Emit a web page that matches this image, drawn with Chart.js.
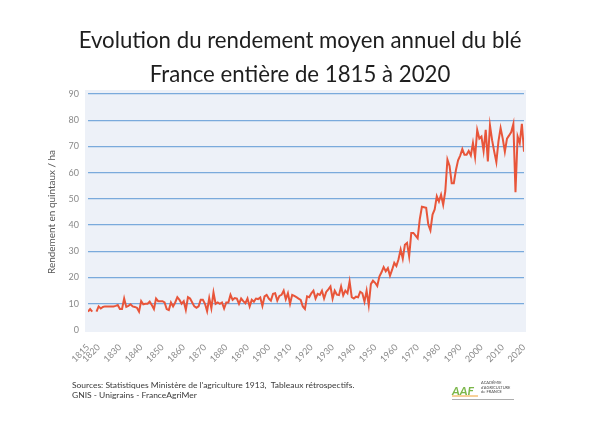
<!DOCTYPE html>
<html>
<head>
<meta charset="utf-8">
<script src="https://cdn.jsdelivr.net/npm/chart.js@4/dist/chart.umd.min.js"></script>
<style>
  html, body { margin: 0; padding: 0; background: #fff; }
  #wrap { width: 600px; height: 424px; }
</style>
</head>
<body>
<div id="wrap"><canvas id="yieldChart" width="600" height="424"></canvas></div>
<script>
// data, quintaux / ha, one value per year from 1815
const startYear = 1815;
const yields = [
  7.0, 8.0, 7.0, null, 7.0, 9.0, 8.2, 8.8, 9.0, 9.0,
  9.0, 9.0, 9.0, 9.2, 9.5, 8.0, 8.0, 12.0, 8.8, 9.2,
  9.8, 9.0, 8.8, 8.5, 7.0, 11.0, 9.8, 10.0, 10.0, 10.8,
  9.5, 8.0, 12.0, 11.0, 11.0, 11.0, 10.5, 8.0, 7.6, 10.5,
  9.0, 10.5, 12.5, 11.5, 10.0, 11.0, 7.7, 12.5, 12.0, 10.5,
  9.0, 8.5, 9.0, 11.5, 11.5, 10.0, 7.2, 12.2, 8.3, 14.3,
  10.0, 10.5, 10.0, 10.5, 8.2, 10.5, 10.5, 13.4, 11.5, 12.2,
  12.0, 10.0, 12.0, 11.0, 10.2, 12.0, 9.0, 11.5, 10.8, 12.0,
  11.8, 12.4, 9.2, 12.8, 13.4, 12.0, 11.2, 13.8, 14.0, 11.2,
  13.0, 13.4, 15.0, 11.7, 14.0, 10.0, 13.4, 13.0, 12.5, 12.0,
  11.5, 9.0, 8.0, 12.8, 12.5, 14.0, 15.0, 12.0, 13.8, 13.4,
  15.0, 12.0, 14.5, 15.5, 16.6, 12.0, 15.0, 13.5, 13.3, 16.6,
  13.2, 15.0, 14.0, 18.5, 12.5, 12.0, 12.7, 12.5, 14.6, 14.0,
  10.8, 15.0, 9.5, 17.5, 18.8, 18.0, 16.8, 20.4, 22.0, 24.0,
  22.4, 23.6, 20.7, 23.0, 25.6, 24.4, 27.0, 30.7, 27.2, 32.5,
  33.2, 28.1, 37.0, 37.0, 36.0, 35.0, 42.3, 47.0, 46.8, 46.6,
  40.2, 38.0, 44.0, 46.0, 51.0, 49.0, 51.6, 47.8, 53.0, 65.0,
  62.6, 56.0, 56.0, 61.0, 64.7, 66.5, 69.0, 66.8, 66.8, 68.3,
  66.6, 71.3, 66.0, 76.3, 73.0, 73.8, 68.3, 76.3, 64.3, 78.0,
  72.4, 68.0, 64.0, 72.0, 77.0, 73.0, 68.0, 73.0, 74.2, 75.5,
  78.6, 52.5, 73.8, 71.3, 78.6, 68.0
];
const xTickYears = [1815, 1820, 1830, 1840, 1850, 1860, 1870, 1880, 1890, 1900,
  1910, 1920, 1930, 1940, 1950, 1960, 1970, 1980, 1990, 2000, 2010, 2020];
const yMin = 0, yMax = 90, yStep = 10;

const titleLines = ["Evolution du rendement moyen annuel du blé", "France entière de 1815 à 2020"];
const yAxisTitle = "Rendement en quintaux / ha";
const sourceLines = [
  "Sources: Statistiques Ministère de l'agriculture 1913,  Tableaux rétrospectifs.",
  "GNIS - Unigrains - FranceAgriMer"
];
const logoLines = ["ACADÉMIE", "d'AGRICULTURE", "de FRANCE"];

// size a font so a string spans a given width
function fitSize(text, family, width) {
  const c = document.createElement("canvas").getContext("2d");
  c.font = "100px " + family;
  return 100 * width / c.measureText(text).width;
}
const titleSize = fitSize(titleLines[0], "Lato", 443);
const axisTitleSize = fitSize(yAxisTitle, "Lato", 124);
const sourceSize = fitSize(sourceLines[0], "Lato", 283);

const points = yields.map((v, i) => ({ x: startYear + i, y: v }));

const plotBg = {
  id: "plotBg",
  beforeDraw(chart) {
    const { ctx, chartArea: a } = chart;
    ctx.save();
    ctx.fillStyle = "#edf1f8";
    ctx.fillRect(a.left - 3, a.top - 4, a.right - a.left + 5, a.bottom - a.top + 6);
    ctx.restore();
  }
};

const footer = {
  id: "footer",
  afterDraw(chart) {
    const ctx = chart.ctx;
    ctx.save();
    ctx.fillStyle = "#3a3a3a";
    ctx.textBaseline = "middle";
    ctx.font = sourceSize + "px Lato";
    ctx.fillText(sourceLines[0], 72, 385);
    ctx.fillText(sourceLines[1], 72, 395.5);
    // small academy logo
    ctx.font = "italic bold 12px Lato";
    ctx.fillStyle = "#7ab648";
    ctx.fillText("AAF", 452, 391);
    ctx.strokeStyle = "#f0a030";
    ctx.lineWidth = 1;
    ctx.beginPath();
    ctx.moveTo(452, 396); ctx.lineTo(478, 396);
    ctx.stroke();
    ctx.fillStyle = "#4a4a4a";
    ctx.font = "4px Lato";
    logoLines.forEach((t, i) => ctx.fillText(t, 481, 383 + i * 4.5));
    ctx.fillStyle = "#999";
    ctx.fillRect(452, 399, 62, 0.8);
    ctx.restore();
  }
};

new Chart(document.getElementById("yieldChart").getContext("2d"), {
  type: "line",
  data: {
    datasets: [{
      label: "Rendement",
      data: points,
      borderColor: "#e8553a",
      borderWidth: 2,
      pointRadius: 0,
      tension: 0,
      spanGaps: false
    }]
  },
  options: {
    responsive: false,
    animation: false,
    layout: { padding: { top: 0, left: 0, right: 0, bottom: 44 } },
    scales: {
      x: {
        type: "linear",
        min: startYear,
        max: startYear + yields.length - 1,
        afterBuildTicks: s => { s.ticks = xTickYears.map(v => ({ value: v })); },
        afterFit: s => { s.height = 50; },
        grid: { display: false },
        border: { display: false },
        ticks: {
          autoSkip: false,
          minRotation: 45,
          maxRotation: 45,
          padding: 4,
          color: "#8a8a8a",
          font: { family: "Lato", size: 9 },
          callback: v => String(v)
        }
      },
      y: {
        min: yMin,
        max: yMax,
        afterFit: s => { s.width = 88; },
        grid: {
          drawTicks: false,
          lineWidth: 1.3,
          color: c => c.tick && c.tick.value === 0 ? "rgba(0,0,0,0)" : "#7aaadc"
        },
        border: { display: false },
        ticks: {
          stepSize: yStep,
          padding: 9,
          color: "#8a8a8a",
          font: { family: "Lato", size: 9 }
        },
        title: {
          display: true,
          text: yAxisTitle,
          color: "#555",
          font: { family: "Lato", size: axisTitleSize },
          padding: { top: 46, bottom: 0 }
        }
      },
      // empty right-hand axis, only keeps the blank margin on the right
      yRight: {
        position: "right",
        min: yMin,
        max: yMax,
        afterFit: s => { s.width = 76; },
        grid: { display: false },
        border: { display: false },
        ticks: { display: false }
      }
    },
    plugins: {
      legend: { display: false },
      tooltip: { enabled: false },
      title: {
        display: true,
        text: titleLines,
        color: "#1e1e1e",
        font: { family: "Lato", size: titleSize, weight: "normal", lineHeight: 34 / titleSize },
        padding: { top: 24, bottom: 2 }
      }
    }
  },
  plugins: [plotBg, footer]
});
</script>
</body>
</html>
